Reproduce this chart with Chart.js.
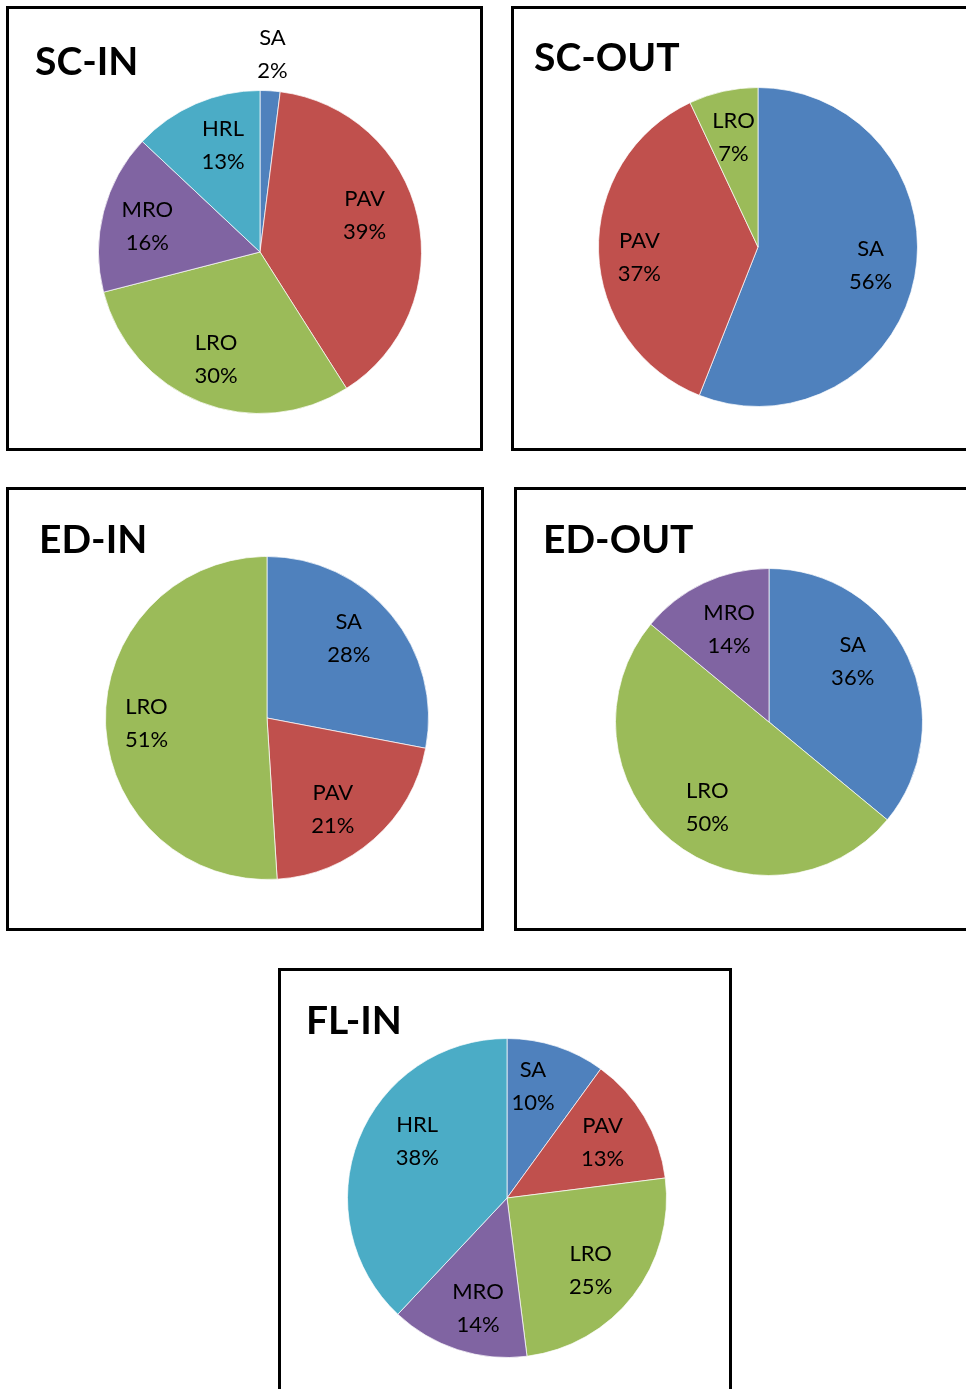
<!DOCTYPE html>
<html>
<head>
<meta charset="utf-8">
<script src="https://cdn.jsdelivr.net/npm/chart.js@4.4.1/dist/chart.umd.min.js"></script>
<style>
html,body{margin:0;padding:0;background:#fff;overflow:hidden;}
body{width:966px;height:1389px;position:relative;}
.box{position:absolute;border:3px solid #000;box-sizing:border-box;}
canvas{position:absolute;}
</style>
</head>
<body>
<div class="box" style="left:6px;top:6px;width:477px;height:445px"></div>
<div class="box" style="left:511px;top:6px;width:470px;height:445px"></div>
<div class="box" style="left:6px;top:487px;width:478px;height:444px"></div>
<div class="box" style="left:514px;top:487px;width:470px;height:444px"></div>
<div class="box" style="left:278px;top:968px;width:454px;height:440px"></div>
<canvas id="sc-in"></canvas>
<canvas id="sc-out"></canvas>
<canvas id="ed-in"></canvas>
<canvas id="ed-out"></canvas>
<canvas id="fl-in"></canvas>
<script>
// ===== data (percent shares, clockwise from 12 o'clock) =====
const SC_IN_LABELS=['SA','PAV','LRO','MRO','HRL'];
const SC_IN_VALUES=[2,39,30,16,13];
const SC_OUT_LABELS=['SA','PAV','LRO'];
const SC_OUT_VALUES=[56,37,7];
const ED_IN_LABELS=['SA','PAV','LRO'];
const ED_IN_VALUES=[28,21,51];
const ED_OUT_LABELS=['SA','LRO','MRO'];
const ED_OUT_VALUES=[36,50,14];
const FL_IN_LABELS=['SA','PAV','LRO','MRO','HRL'];
const FL_IN_VALUES=[10,13,25,14,38];

const COLORS={SA:'#4F81BD',PAV:'#C0504D',LRO:'#9BBB59',MRO:'#8064A2',HRL:'#4BACC6'};

// labels in the slices (radius fraction + angle nudge in degrees) and the panel title
const sliceLabels={
  id:'sliceLabels',
  afterDatasetsDraw(chart,args,opts){
    const ctx=chart.ctx,meta=chart.getDatasetMeta(0),ds=chart.data.datasets[0];
    ctx.save();
    ctx.fillStyle='#000';ctx.font='22px Lato';ctx.textAlign='center';ctx.textBaseline='middle';
    meta.data.forEach((arc,i)=>{
      const p=arc.getProps(['x','y','startAngle','endAngle','outerRadius'],true);
      const pos=(opts.pos&&opts.pos[i])||[0.7,0];
      const mid=(p.startAngle+p.endAngle)/2+pos[1]*Math.PI/180;
      const lx=p.x+Math.cos(mid)*p.outerRadius*pos[0],ly=p.y+Math.sin(mid)*p.outerRadius*pos[0];
      ctx.fillText(chart.data.labels[i],lx,ly-16);
      ctx.fillText(ds.data[i]+'%',lx,ly+17);
    });
    ctx.font='bold 39px Lato';ctx.textAlign='left';ctx.textBaseline='alphabetic';
    ctx.fillText(opts.title,opts.tx,opts.ty);
    ctx.restore();
  }
};

// box = [left,top,width,height] on the page, pie = [cx,cy,r] on the page
function makePie(id,labels,values,title,box,pie,titlePos,pos){
  const canvas=document.getElementById(id);
  const [bl,bt,bw,bh]=box,[cx,cy,r]=pie;
  canvas.width=bw;canvas.height=bh;
  canvas.style.left=bl+'px';canvas.style.top=bt+'px';
  canvas.style.width=bw+'px';canvas.style.height=bh+'px';
  return new Chart(canvas.getContext('2d'),{
    type:'pie',
    data:{labels:labels,datasets:[{data:values,backgroundColor:labels.map(l=>COLORS[l]),borderColor:'rgba(255,255,255,0.7)',borderWidth:1}]},
    options:{responsive:false,animation:false,
      layout:{padding:{left:cx-r-bl,top:cy-r-bt,right:bw-(cx+r-bl),bottom:bh-(cy+r-bt)}},
      plugins:{legend:{display:false},tooltip:{enabled:false},
        sliceLabels:{title:title,tx:titlePos[0]-bl,ty:titlePos[1]-bt,pos:pos}}
    },
    plugins:[sliceLabels]
  });
}

makePie('sc-in',SC_IN_LABELS,SC_IN_VALUES,'SC-IN',[6,6,477,445],[260,252,162],[35,75],
  [[1.23,0],[0.687,-6.8],[0.714,0.8],[0.716,-1.4],[0.70,4.3]]);
makePie('sc-out',SC_OUT_LABELS,SC_OUT_VALUES,'SC-OUT',[511,6,455,445],[758,247,160],[534,71],
  [[0.715,-1.8],[0.746,-3],[0.705,0]]);
makePie('ed-in',ED_IN_LABELS,ED_IN_VALUES,'ED-IN',[6,487,478,444],[267,718,162],[39,553],
  [[0.707,-4.7],[0.694,5.4],[0.747,-0.6]]);
makePie('ed-out',ED_OUT_LABELS,ED_OUT_VALUES,'ED-OUT',[514,487,452,444],[769,722,154],[543,553],
  [[0.674,-10.8],[0.683,-3.5],[0.657,1.9]]);
makePie('fl-in',FL_IN_LABELS,FL_IN_VALUES,'FL-IN',[278,968,454,421],[507,1198,160],[306,1034],
  [[0.719,-4.9],[0.694,0.3],[0.691,2.8],[0.711,-3.2],[0.666,10.7]]);
</script>
</body>
</html>
